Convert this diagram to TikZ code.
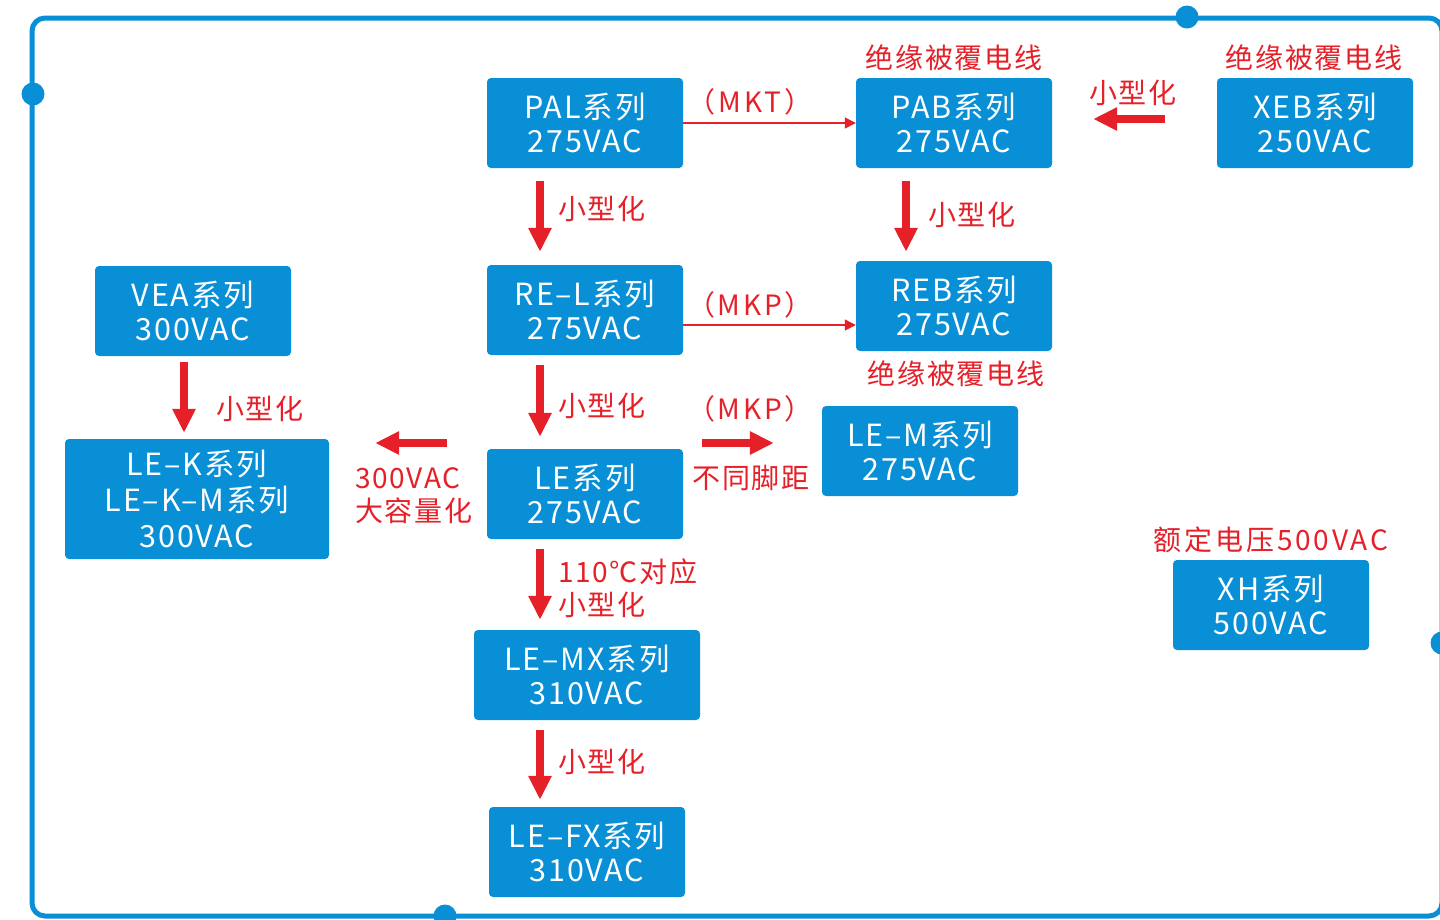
\documentclass[tikz,border=0pt]{standalone}
\usepackage{fontspec}
\setmainfont{Noto Sans CJK SC}
\newfontfamily\boxfont[LetterSpace=6]{Noto Sans CJK SC}
\newfontfamily\lblfont[LetterSpace=6]{Noto Sans CJK SC}
\newfontfamily\lblwfont[LetterSpace=10]{Noto Sans CJK SC}
\usetikzlibrary{arrows.meta,calc}
\definecolor{cblue}{RGB}{8,143,214}
\definecolor{cred}{RGB}{230,32,40}
\begin{document}
\begin{tikzpicture}[x=1pt,y=-1pt,
 box/.style={fill=cblue, rounded corners=4pt, minimum width=196pt, minimum height=90pt, inner sep=0pt, text=white, align=center, font=\boxfont\fontsize{30.5}{34}\selectfont},
 lbl/.style={text=cred, font=\lblfont\fontsize{28}{33}\selectfont, inner sep=0pt, align=left},
 bigarrow/.style={draw=cred, line width=8pt, -{Triangle[length=24pt,width=22pt]}},
 thinarrow/.style={draw=cred, line width=1.2pt, -{Triangle[length=11pt,width=11pt]}},
 dot/.style={circle, fill=cblue, minimum size=23pt, inner sep=0pt}]
\useasboundingbox (0,0) rectangle (1440,919);
\fill[white] (0,0) rectangle (1440,919);
% frame
\draw[cblue, line width=5pt, rounded corners=13pt] (32,18) rectangle (1442,916);
\node[dot] (d1) at (33,94) {};
\node[dot] (d2) at (1187,17) {};
\node[dot] (d3) at (445,916) {};
\node[dot] (d4) at (1442,643) {};
% boxes
\node[box] (pal) at (585,123) {PAL系列\\275VAC};
\node[box] (pab) at (954,123) {PAB系列\\275VAC};
\node[box] (xeb) at (1315,123) {XEB系列\\250VAC};
\node[box] (rel) at (585,310) {RE–L系列\\275VAC};
\node[box] (reb) at (954,306) {REB系列\\275VAC};
\node[box] (vea) at (193,311) {VEA系列\\300VAC};
\node[box, minimum width=264pt, minimum height=120pt, font=\boxfont\fontsize{30.5}{36}\selectfont] (lek) at (197,499) {LE–K系列\\LE–K–M系列\\300VAC};
\node[box] (le) at (585,494) {LE系列\\275VAC};
\node[box] (lem) at (920,451) {LE–M系列\\275VAC};
\node[box, minimum width=226pt] (lemx) at (587,675) {LE–MX系列\\310VAC};
\node[box] (lefx) at (587,852) {LE–FX系列\\310VAC};
\node[box] (xh) at (1271,605) {XH系列\\500VAC};
% thick arrows
\draw[bigarrow] ($(pal.south)+(-45,13)$) -- ($(rel.north)+(-45,-13)$);
\draw[bigarrow] ($(pab.south)+(-48,13)$) -- ($(reb.north)+(-48,-9)$);
\draw[bigarrow] ($(rel.south)+(-45,10)$) -- ($(le.north)+(-45,-12)$);
\draw[bigarrow] ($(le.south)+(-45,10)$) -- ($(lemx.north)+(-47,-10)$);
\draw[bigarrow] ($(lemx.south)+(-47,10)$) -- ($(lefx.north)+(-47,-7)$);
\draw[bigarrow] ($(vea.south)+(-9,6)$) -- ($(lek.north)+(-13,-6)$);
\draw[bigarrow] ($(xeb.west)+(-52,-4)$) -- ($(pab.east)+(41,-4)$);
\draw[bigarrow] ($(le.west)+(-40,-51)$) -- ($(lek.east)+(46,-56)$);
\draw[bigarrow] ($(le.east)+(19,-51)$) -- ($(lem.west)+(-48,-8)$);
% thin arrows
\draw[thinarrow] (pal.east) -- (pab.west);
\draw[thinarrow] ($(rel.east)+(0,15)$) -- ($(reb.west)+(0,19)$);
% labels
\node[lbl] (t1) at (954,58) {绝缘被覆电线};
\node[lbl] (t2) at (1314,58) {绝缘被覆电线};
\node[lbl] (t3) at (956,374) {绝缘被覆电线};
\node[lbl] (t4) at (1133,93) {小型化};
\node[lbl, font=\lblwfont\fontsize{28}{33}\selectfont] (t5) at (750,102) {（MKT）};
\node[lbl, font=\lblwfont\fontsize{28}{33}\selectfont] (t6) at (750,305) {（MKP）};
\node[lbl, font=\lblwfont\fontsize{28}{33}\selectfont] (t7) at (750,409) {（MKP）};
\node[lbl] (t8) at (751,478) {不同脚距};
\node[lbl, anchor=west] (t9) at (558,209) {小型化};
\node[lbl, anchor=west] (t10) at (928,215) {小型化};
\node[lbl, anchor=west] (t11) at (558,406) {小型化};
\node[lbl, anchor=west] (t12) at (216,409) {小型化};
\node[lbl, anchor=west] (t13) at (558,762) {小型化};
\node[lbl, anchor=west] (t14) at (558,588) {110℃对应\\小型化};
\node[lbl, anchor=west] (t15) at (355,496) {300VAC\\大容量化};
\node[lbl, font=\lblwfont\fontsize{28}{33}\selectfont] (t16) at (1271,540) {额定电压500VAC};
\end{tikzpicture}
\end{document}
